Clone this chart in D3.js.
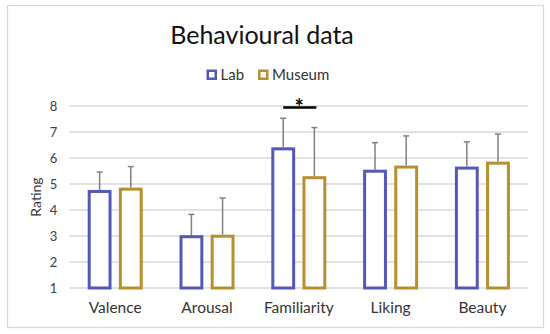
<!DOCTYPE html>
<html><head><meta charset="utf-8">
<script src="https://cdn.jsdelivr.net/npm/d3@7"></script>
<style>body{margin:0;background:#fff}svg{display:block}</style>
</head><body>
<svg id="c" width="550" height="334"></svg>
<script>
const categories = ["Valence","Arousal","Familiarity","Liking","Beauty"];
const seriesNames = ["Lab","Museum"];
const labMeans = [4.77,3.03,6.41,5.55,5.67];
const museumMeans = [4.86,3.05,5.30,5.71,5.86];
const labUpper = [5.46,3.83,7.53,6.59,6.62];
const museumUpper = [5.67,4.46,7.17,6.85,6.92];
const yTicks = [1,2,3,4,5,6,7,8];
const colors = ["#5458b8","#b88f2e"];
const font = "Lato, 'Open Sans', sans-serif";

(function(){
const svg = d3.select("#c");
svg.append("rect").attr("x",7.5).attr("y",5.5).attr("width",536).attr("height",322)
  .attr("fill","#fff").attr("stroke","#d9d9d9").attr("stroke-width",1.3);

const pLeft=69.3, pRight=528.3, pTop=106, pBottom=288;
const x = d3.scaleBand().domain(categories).range([pLeft,pRight]).paddingInner(0).paddingOuter(0);
const x1 = d3.scaleBand().domain(seriesNames).range([18.4, x.bandwidth()-18.4]).paddingInner(0.235).paddingOuter(0);
const y = d3.scaleLinear().domain([1,8]).range([pBottom,pTop]);

svg.append("g").selectAll("line").data(yTicks).join("line")
  .attr("x1",pLeft).attr("x2",pRight).attr("y1",d=>y(d)).attr("y2",d=>y(d))
  .attr("stroke","#d9d9d9").attr("stroke-width",1.3);

const yAxis = d3.axisLeft(y).tickValues(yTicks).tickFormat(d3.format("d")).tickSize(0).tickPadding(12);
const ya = svg.append("g").attr("transform",`translate(${pLeft},0)`).call(yAxis);
ya.select(".domain").remove();
ya.selectAll("text").attr("font-family",font).attr("font-size",13).attr("fill","#404040");

const xAxis = d3.axisBottom(x).tickSize(0).tickPadding(0);
const xa = svg.append("g").attr("transform",`translate(0,${pBottom})`).call(xAxis);
xa.select(".domain").remove();
xa.selectAll("text").attr("font-family",font).attr("font-size",15.5).attr("fill","#333")
  .attr("dy",null).attr("y",25);

const data = categories.map((c,i)=>({c, vals:[
  {s:"Lab", m:labMeans[i], u:labUpper[i], col:colors[0]},
  {s:"Museum", m:museumMeans[i], u:museumUpper[i], col:colors[1]}]}));

const g = svg.append("g").selectAll("g").data(data).join("g")
  .attr("transform",d=>`translate(${x(d.c)},0)`);
g.selectAll("line.err").data(d=>d.vals).join("line").attr("class","err")
  .attr("x1",d=>x1(d.s)+x1.bandwidth()/2).attr("x2",d=>x1(d.s)+x1.bandwidth()/2)
  .attr("y1",d=>y(d.m)).attr("y2",d=>y(d.u)).attr("stroke","#808080").attr("stroke-width",1.5);
g.selectAll("line.cap").data(d=>d.vals).join("line").attr("class","cap")
  .attr("x1",d=>x1(d.s)+x1.bandwidth()/2-3).attr("x2",d=>x1(d.s)+x1.bandwidth()/2+3)
  .attr("y1",d=>y(d.u)).attr("y2",d=>y(d.u)).attr("stroke","#808080").attr("stroke-width",1.5);
g.selectAll("rect").data(d=>d.vals).join("rect")
  .attr("x",d=>x1(d.s)+1.5).attr("width",x1.bandwidth()-3)
  .attr("y",d=>y(d.m)+1.5).attr("height",d=>y(1)-y(d.m)-1.5)
  .attr("fill","#fff").attr("stroke",d=>d.col).attr("stroke-width",3);

const fi = categories.indexOf("Familiarity");
const sx1 = x(categories[fi])+x1("Lab")+x1.bandwidth()/2;
const sx2 = x(categories[fi])+x1("Museum")+x1.bandwidth()/2;
svg.append("line").attr("x1",sx1).attr("x2",sx2+2).attr("y1",y(8)+1.5).attr("y2",y(8)+1.5)
  .attr("stroke","#000").attr("stroke-width",2.5);
svg.append("text").attr("x",(sx1+sx2)/2+0.5).attr("y",y(8)+9).attr("text-anchor","middle")
  .attr("font-family",font).attr("font-size",22).attr("font-weight","bold").text("*");

svg.append("text").attr("transform","translate(41,197) rotate(-90)").attr("text-anchor","middle")
  .attr("font-family",font).attr("font-size",14).attr("fill","#333").text("Rating");

svg.append("text").attr("x",262).attr("y",44).attr("text-anchor","middle")
  .attr("font-family",font).attr("font-size",25).attr("fill","#111").text("Behavioural data");

const leg = svg.append("g");
const legX = [206.5, 258];
seriesNames.forEach((s,i)=>{
  leg.append("rect").attr("x",legX[i]+1.25).attr("y",70.75).attr("width",8).attr("height",8)
    .attr("fill","#fff").attr("stroke",colors[i]).attr("stroke-width",2.5);
  leg.append("text").attr("x",legX[i]+14).attr("y",80).attr("font-family",font).attr("font-size",15)
    .attr("fill","#333").text(s);
});
})();
</script>
</body></html>
